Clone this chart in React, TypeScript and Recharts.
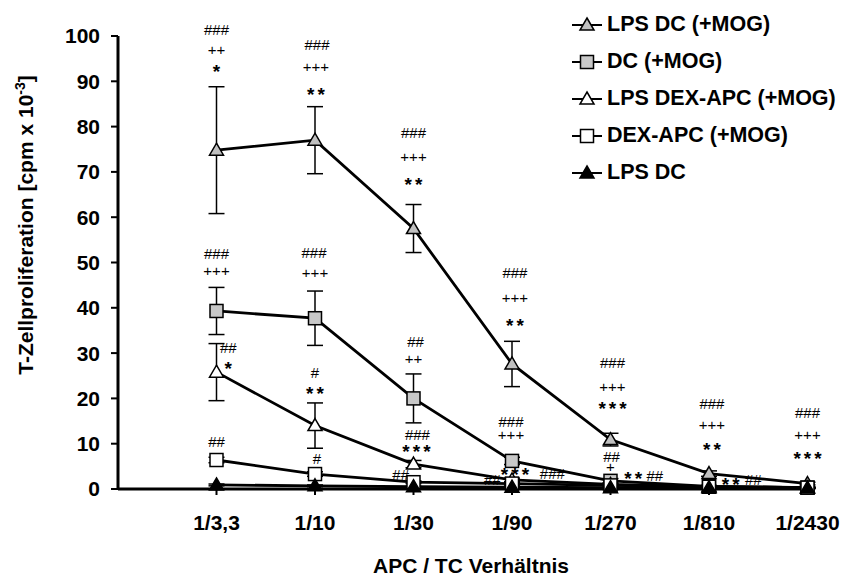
import React from 'react';
import {
  ComposedChart,
  Line,
  Scatter,
  XAxis,
  YAxis,
  ErrorBar,
  ReferenceLine
} from 'recharts';

const categories = ['1/3,3', '1/10', '1/30', '1/90', '1/270', '1/810', '1/2430'];
const positions = [1, 2, 3, 4, 5, 6, 7];

const lpsDcMog = [74.8, 77.0, 57.5, 27.6, 10.9, 3.4, 1.2];
const lpsDcMogErr = [14.0, 7.4, 5.3, 5.0, 1.4, 0.6, 0.3];
const dcMog = [39.3, 37.7, 20.0, 6.2, 1.8, 0.6, 0.3];
const dcMogErr = [5.2, 6.0, 5.4, 0.8, 0.5, 0.2, 0.1];
const lpsDexMog = [25.8, 14.0, 5.5, 2.0, 1.0, 0.5, 0.3];
const lpsDexMogErr = [6.3, 5.0, 0.8, 0.4, 0.3, 0.2, 0.1];
const dexMog = [6.4, 3.3, 1.5, 1.2, 0.8, 0.5, 0.3];
const dexMogErr = [0.6, 0.5, 0.3, 0.3, 0.2, 0.1, 0.1];
const lpsDc = [0.9, 0.7, 0.5, 0.4, 0.3, 0.3, 0.2];
const lpsDcErr = [0.2, 0.2, 0.1, 0.1, 0.1, 0.1, 0.1];

// significance marks, anchored in data units (category position, value)
const annotText = [
  '###', '++', '*', '###', '+++', '##', '*', '##',
  '###', '+++', '**', '###', '+++', '#', '**', '#',
  '###', '+++', '**', '##', '++', '###', '***', '##',
  '###', '+++', '**', '###', '+++', '***', '##', '###',
  '###', '+++', '***', '##', '+', '**', '##',
  '###', '+++', '**', '**', '##',
  '###', '+++', '***'
];
const annotX = [
  1.0, 1.0, 1.0, 1.0, 1.0, 1.12, 1.12, 1.0,
  2.02, 2.01, 2.01, 1.99, 2.0, 2.0, 2.0, 2.02,
  3.0, 3.0, 3.0, 3.02, 3.0, 3.04, 3.03, 2.87,
  4.03, 4.03, 4.03, 3.99, 3.99, 4.03, 3.8, 4.41,
  5.02, 5.02, 5.02, 5.01, 5.0, 5.23, 5.45,
  6.03, 6.03, 6.03, 6.22, 6.45,
  7.0, 7.0, 7.0
];
const annotY = [
  101.5, 97.1, 93.2, 51.9, 48.3, 31.3, 27.8, 10.4,
  98.2, 93.2, 88.1, 52.1, 47.9, 25.8, 22.1, 6.8,
  78.6, 73.3, 68.4, 32.5, 28.9, 12.1, 9.3, 3.1,
  47.9, 42.2, 37.1, 14.8, 12.1, 4.2, 2.0, 3.5,
  28.0, 22.7, 18.8, 7.1, 4.9, 3.5, 2.9,
  18.8, 14.3, 9.9, 2.0, 2.2,
  16.8, 12.1, 7.9
];

type Shape = 'triangle' | 'square';

const series = [
  { name: 'LPS DC (+MOG)', values: lpsDcMog, errors: lpsDcMogErr, shape: 'triangle' as Shape, fill: '#c0c0c0' },
  { name: 'DC (+MOG)', values: dcMog, errors: dcMogErr, shape: 'square' as Shape, fill: '#c8c8c8' },
  { name: 'LPS DEX-APC (+MOG)', values: lpsDexMog, errors: lpsDexMogErr, shape: 'triangle' as Shape, fill: '#ffffff' },
  { name: 'DEX-APC (+MOG)', values: dexMog, errors: dexMogErr, shape: 'square' as Shape, fill: '#ffffff' },
  { name: 'LPS DC', values: lpsDc, errors: lpsDcErr, shape: 'triangle' as Shape, fill: '#000000' }
];

const annotations = annotText.map((t, i) => ({ x: annotX[i], y: annotY[i], text: t }));

const FONT = '"Liberation Sans", Arial, sans-serif';

function Marker({ cx, cy, shape, fill }: { cx: number; cy: number; shape: Shape; fill: string }) {
  if (shape === 'square') {
    return <rect x={cx - 6.5} y={cy - 6.5} width={13} height={13} fill={fill} stroke="#000" strokeWidth={1.5} />;
  }
  return (
    <path
      d={`M${cx},${cy - 7} L${cx + 7},${cy + 5} L${cx - 7},${cy + 5} Z`}
      fill={fill}
      stroke="#000"
      strokeWidth={1.5}
      strokeLinejoin="miter"
    />
  );
}

function AnnotShape(props: any) {
  const { cx, cy, payload } = props;
  const star = payload.text.includes('*');
  if (star) {
    return (
      <text x={cx + 1.5} y={cy} dy={5} textAnchor="middle" dominantBaseline="central"
        fontFamily={FONT} fontWeight="bold" fontSize={19} letterSpacing={3} fill="#000">
        {payload.text}
      </text>
    );
  }
  return (
    <text x={cx} y={cy} textAnchor="middle" dominantBaseline="central"
      fontFamily={FONT} fontSize={15} fill="#000">
      {payload.text}
    </text>
  );
}

function LegendBox() {
  return (
    <div style={{ position: 'absolute', left: 570, top: 6, fontFamily: FONT }}>
      {series.map((s) => (
        <div key={s.name} style={{ display: 'flex', alignItems: 'center', height: 37 }}>
          <svg width={34} height={20}>
            <line x1={2} y1={10} x2={32} y2={10} stroke="#000" strokeWidth={2} />
            <Marker cx={17} cy={10} shape={s.shape} fill={s.fill} />
          </svg>
          <span style={{ fontSize: 21.5, fontWeight: 'bold', marginLeft: 3, color: '#000' }}>{s.name}</span>
        </div>
      ))}
    </div>
  );
}

export default function App() {
  return (
    <div style={{ position: 'absolute', left: 0, top: 0, width: 848, height: 581, background: '#fff' }}>
      <ComposedChart width={848} height={581} margin={{ top: 13.35, right: 40.5, bottom: 32, left: 58 }}>
        <XAxis
          type="number"
          dataKey="x"
          domain={[0, 7]}
          ticks={positions}
          interval={0}
          tickFormatter={(v: number) => categories[v - 1] ?? ''}
          axisLine={{ stroke: '#000', strokeWidth: 3 }}
          tickLine={{ stroke: '#000', strokeWidth: 2 }}
          tickSize={6}
          tickMargin={20}
          height={60}
          tick={{ fill: '#000', fontSize: 21, fontWeight: 'bold', fontFamily: FONT }}
        />
        <YAxis
          type="number"
          domain={[0, 105]}
          ticks={[0, 10, 20, 30, 40, 50, 60, 70, 80, 90, 100]}
          interval={0}
          width={60}
          axisLine={false}
          tickLine={{ stroke: '#000', strokeWidth: 2 }}
          tickSize={7}
          tickMargin={11}
          tick={{ fill: '#000', fontSize: 21, fontWeight: 'bold', fontFamily: FONT }}
        />
        <ReferenceLine
          segment={[{ x: 0, y: 0 }, { x: 0, y: 100 }]}
          stroke="#000"
          strokeWidth={3}
          ifOverflow="visible"
        />
        {series.map((s) => {
          const data = positions.map((p, i) => ({ x: p, y: s.values[i], err: s.errors[i] }));
          return (
            <Line
              key={s.name}
              data={data}
              dataKey="y"
              name={s.name}
              stroke="#000"
              strokeWidth={2.8}
              isAnimationActive={false}
              dot={(props: any) => (
                <Marker key={`${s.name}-${props.index}`} cx={props.cx} cy={props.cy} shape={s.shape} fill={s.fill} />
              )}
              activeDot={false}
            >
              <ErrorBar dataKey="err" direction="y" width={8} stroke="#000" strokeWidth={1.5} />
            </Line>
          );
        })}
        <Scatter data={annotations} dataKey="y" shape={AnnotShape} isAnimationActive={false} />
      </ComposedChart>
      <svg width={848} height={581} style={{ position: 'absolute', left: 0, top: 0, pointerEvents: 'none' }}>
        <text x={471} y={573} textAnchor="middle" fontFamily={FONT} fontSize={21} fontWeight="bold" fill="#000">
          APC / TC Verhältnis
        </text>
        <text x={33} y={225} transform="rotate(-90 33 225)" textAnchor="middle"
          fontFamily={FONT} fontSize={21} fontWeight="bold" fill="#000">
          T-Zellproliferation [cpm x 10<tspan dy={-8} fontSize={14}>-3</tspan><tspan dy={8}>]</tspan>
        </text>
      </svg>
      <LegendBox />
    </div>
  );
}
